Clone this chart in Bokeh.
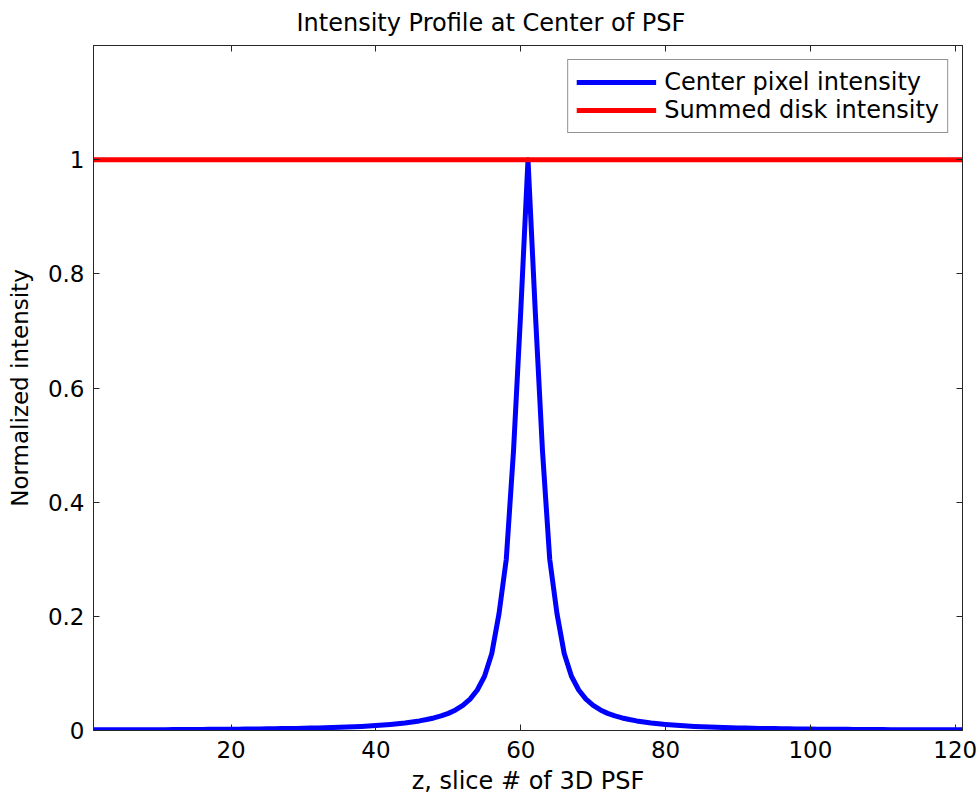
from bokeh.plotting import figure
from bokeh.models import (Range1d, LinearAxis, FixedTicker, Legend, LegendItem,
                          CustomJSTickFormatter, ColumnDataSource, CustomLabelingPolicy)
from bokeh.embed import file_html
from bokeh.resources import INLINE

# ---------------- data ----------------
z = list(range(1, 122))

center_intensity = [
    0.0011, 0.0011, 0.0011, 0.0012, 0.0012, 0.0013, 0.0013, 0.0014, 0.0014, 0.0015,
    0.0015, 0.0016, 0.0017, 0.0017, 0.0018, 0.0019, 0.0020, 0.0021, 0.0022, 0.0023,
    0.0024, 0.0025, 0.0026, 0.0028, 0.0029, 0.0031, 0.0033, 0.0035, 0.0037, 0.0039,
    0.0042, 0.0045, 0.0048, 0.0052, 0.0056, 0.0061, 0.0066, 0.0072, 0.0079, 0.0087,
    0.0096, 0.0106, 0.0118, 0.0132, 0.0149, 0.0168, 0.0192, 0.0220, 0.0255, 0.0300,
    0.036, 0.044, 0.055, 0.071, 0.095, 0.135, 0.205, 0.300, 0.490, 0.735,
    1.000,
    0.735, 0.490, 0.300, 0.205, 0.135, 0.095, 0.071, 0.055, 0.044, 0.036,
    0.0300, 0.0255, 0.0220, 0.0192, 0.0168, 0.0149, 0.0132, 0.0118, 0.0106, 0.0096,
    0.0087, 0.0079, 0.0072, 0.0066, 0.0061, 0.0056, 0.0052, 0.0048, 0.0045, 0.0042,
    0.0039, 0.0037, 0.0035, 0.0033, 0.0031, 0.0029, 0.0028, 0.0026, 0.0025, 0.0024,
    0.0023, 0.0022, 0.0021, 0.0020, 0.0019, 0.0018, 0.0017, 0.0017, 0.0016, 0.0015,
    0.0015, 0.0014, 0.0014, 0.0013, 0.0013, 0.0012, 0.0012, 0.0011, 0.0011, 0.0011,
]

summed_disk = [1.0] * 121

x_ticks = [20, 40, 60, 80, 100, 120]
y_ticks = [0, 0.2, 0.4, 0.6, 0.8, 1.0]

title_text = "Intensity Profile at Center of PSF"
x_label = "z, slice # of 3D PSF"
y_label = "Normalized intensity"
labels = ["Center pixel intensity", "Summed disk intensity"]

# ---------------- figure ----------------
FONT = "DejaVu Sans"
AX = "#262626"

source = ColumnDataSource(dict(z=z, c=center_intensity, s=summed_disk))

p = figure(width=980, height=803, x_range=Range1d(1, 121), y_range=Range1d(0, 1.2),
           output_backend="svg", toolbar_location=None,
           min_border_left=93, min_border_right=18, min_border_top=45, min_border_bottom=73,
           x_axis_label=x_label, y_axis_label=y_label, title=title_text)

p.grid.visible = False
p.background_fill_color = "white"
p.border_fill_color = "white"
p.outline_line_color = AX

p.title.text_font = FONT
p.title.text_font_size = "24px"
p.title.text_font_style = "normal"
p.title.align = "left"
p.title.offset = 203
p.title.standoff = 10
p.title.text_color = "black"

hide_labels = CustomLabelingPolicy(code="""
for (const i of Array.from(indices)) { indices.unset(i) }
return indices
""")

def style_axis(ax, show_labels=True):
    ax.axis_line_color = AX
    ax.major_tick_line_color = AX
    ax.major_tick_in = 6
    ax.major_tick_out = 0
    ax.minor_tick_in = 0
    ax.minor_tick_out = 0
    ax.minor_tick_line_color = None
    ax.major_label_text_font = FONT
    ax.major_label_text_font_size = "23px" if show_labels else "1px"
    ax.major_label_text_color = "black"
    ax.axis_label_text_font = FONT
    ax.axis_label_text_font_size = "24px"
    ax.axis_label_text_font_style = "normal"
    ax.axis_label_text_color = "black"
    if not show_labels:
        ax.major_label_policy = hide_labels

xa = p.xaxis[0]
xa.ticker = FixedTicker(ticks=x_ticks)
style_axis(xa)
xa.major_label_standoff = 10
xa.axis_label_standoff = 6

ya = p.yaxis[0]
ya.ticker = FixedTicker(ticks=y_ticks)
ya.formatter = CustomJSTickFormatter(code="return (Math.round(tick*10)/10).toString();")
style_axis(ya)
ya.axis_label_text_font_size = "23px"
ya.major_label_standoff = 9
ya.axis_label_standoff = 12

top = LinearAxis(ticker=FixedTicker(ticks=x_ticks))
style_axis(top, show_labels=False)
top.major_label_standoff = 0
p.add_layout(top, "above")

right = LinearAxis(ticker=FixedTicker(ticks=y_ticks))
style_axis(right, show_labels=False)
right.major_label_standoff = 0
p.add_layout(right, "right")

r1 = p.line("z", "c", source=source, line_color="#0000FF", line_width=5, line_join="round")
r2 = p.line("z", "s", source=source, line_color="#FF0000", line_width=5)

legend = Legend(items=[LegendItem(label=labels[0], renderers=[r1]),
                       LegendItem(label=labels[1], renderers=[r2])],
                location="top_right", margin=14, padding=8, spacing=0,
                glyph_width=80, glyph_height=26, label_height=26, label_standoff=8,
                border_line_color=AX, border_line_width=1,
                background_fill_color="white", background_fill_alpha=1,
                label_text_font=FONT, label_text_font_size="24px", label_text_color="black")
p.add_layout(legend)

open("out.html", "w").write(file_html(p, INLINE))
